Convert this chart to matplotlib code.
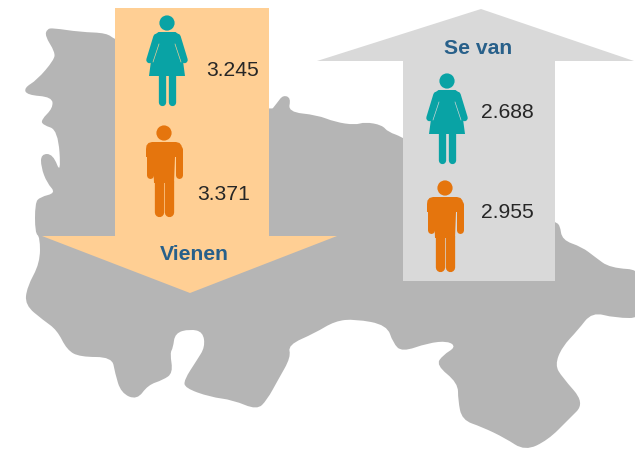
import matplotlib
matplotlib.use("Agg")
import matplotlib.pyplot as plt
from matplotlib.patches import Polygon, Circle, PathPatch
from matplotlib.path import Path

plt.rcParams['font.family'] = ['Liberation Sans', 'DejaVu Sans']

# valores
categorias = ["Vienen", "Se van"]
mujeres = ["3.245", "2.688"]
hombres = ["3.371", "2.955"]

# silueta del mapa (en pixeles de la imagen)
mapa_x = [47, 53, 80, 107, 115, 269, 277, 283, 291, 288, 317, 335, 355, 365, 382, 388, 403, 555, 560, 562,
          582, 595, 610, 645, 645, 615, 592, 578, 562, 555, 562, 585, 568, 548, 525, 505, 482, 462, 458, 458,
          436, 443, 456, 448, 428, 402, 393, 387, 355, 335, 315, 288, 291, 278, 267, 257, 233, 210, 185, 184,
          197, 205, 203, 190, 175, 173, 170, 173, 163, 148, 137, 121, 115, 112, 80, 67, 57, 43, 25, 27,
          40, 40, 35, 35, 40, 56, 47, 41, 41, 53, 61, 58, 43, 41, 53, 52, 27, 24, 37, 54, 55, 45]
mapa_y = [29, 28, 32, 33, 40, 113, 103, 95, 98, 112, 115, 122, 125, 122, 125, 132, 137, 222, 225, 240,
          247, 257, 268, 270, 318, 318, 312, 330, 347, 365, 377, 403, 420, 440, 451, 438, 427, 420, 400, 383,
          365, 355, 347, 341, 343, 352, 343, 325, 319, 321, 333, 345, 357, 380, 400, 410, 400, 397, 388, 380,
          360, 347, 332, 329, 333, 348, 353, 373, 380, 385, 400, 393, 373, 357, 357, 350, 330, 320, 305, 287,
          263, 237, 233, 203, 197, 193, 183, 167, 154, 154, 175, 130, 125, 120, 108, 97, 95, 88, 80, 60, 52, 36]

gris_mapa = "#B5B5B5"
naranja_claro = "#FFCF94"
gris_claro = "#D9D9D9"
teal = "#09A3A5"
naranja = "#E5750D"
azul = "#28608A"
negro = "#262626"


def silueta(xs, ys):
    # curvas entre puntos medios para que el borde no quede en picos
    n = len(xs)
    mx = [(xs[i] + xs[(i + 1) % n]) / 2 for i in range(n)]
    my = [(ys[i] + ys[(i + 1) % n]) / 2 for i in range(n)]
    verts = [(mx[-1], my[-1])]
    codes = [Path.MOVETO]
    for i in range(n):
        verts += [(xs[i], ys[i]), (mx[i], my[i])]
        codes += [Path.CURVE3, Path.CURVE3]
    return Path(verts, codes)


def limb(ax, x1, y1, x2, y2, w, color, z):
    # 1 px = 0.72 pt a 100 dpi
    ax.plot([x1, x2], [y1, y2], color=color, lw=w * 0.72, solid_capstyle="round", zorder=z)


def mujer(ax, cx, cy, fondo):
    ax.add_patch(Circle((cx, cy), 7.6, color=teal, lw=0, zorder=5))
    ax.add_patch(Polygon([(cx - 8.5, cy + 9), (cx + 8.5, cy + 9), (cx + 12.5, cy + 12), (cx + 18, cy + 53),
                          (cx - 18, cy + 53), (cx - 12.5, cy + 12)], closed=True, color=teal, lw=0, zorder=5))
    for s in (-1, 1):
        limb(ax, cx + s * 10.5, cy + 14, cx + s * 17.5, cy + 37, 6.5, teal, 5)
        limb(ax, cx + s * 4.6, cy + 50, cx + s * 4.6, cy + 78.5, 7.3, teal, 5)
        ax.plot([cx + s * 8, cx + s * 14], [cy + 21, cy + 39], color=fondo, lw=0.45, zorder=6)


def hombre(ax, cx, cy, fondo):
    ax.add_patch(Circle((cx, cy), 7.6, color=naranja, lw=0, zorder=5))
    ax.add_patch(Polygon([(cx - 12, cy + 9), (cx + 12, cy + 9), (cx + 15.5, cy + 10), (cx + 17.5, cy + 12.5),
                          (cx + 18, cy + 16), (cx + 18, cy + 24), (cx + 11, cy + 24), (cx + 10, cy + 50),
                          (cx - 10, cy + 50), (cx - 11, cy + 24), (cx - 18, cy + 24), (cx - 18, cy + 16),
                          (cx - 17.5, cy + 12.5), (cx - 15.5, cy + 10)],
                         closed=True, color=naranja, lw=0, zorder=5))
    for s in (-1, 1):
        limb(ax, cx + s * 14.5, cy + 16, cx + s * 14.5, cy + 41.5, 7, naranja, 5)
        limb(ax, cx + s * 5.3, cy + 48, cx + s * 5.3, cy + 78.5, 9.3, naranja, 5)


fig = plt.figure(figsize=(6.35, 4.51), dpi=100)
ax = fig.add_axes([0, 0, 1, 1])
ax.set_xlim(0, 635)
ax.set_ylim(451, 0)
ax.axis("off")

ax.add_patch(PathPatch(silueta(mapa_x, mapa_y), color=gris_mapa, lw=0, zorder=1))

# flecha que baja
ax.add_patch(Polygon([(115, 8), (269, 8), (269, 236), (337, 236), (190, 293), (42, 236), (115, 236)],
                     closed=True, color=naranja_claro, lw=0, zorder=2))
# flecha que sube
ax.add_patch(Polygon([(403, 281), (555, 281), (555, 61), (634, 61), (481, 9), (317, 61), (403, 61)],
                     closed=True, color=gris_claro, lw=0, zorder=2))

mujer(ax, 167, 23, naranja_claro)
hombre(ax, 164, 133, naranja_claro)
mujer(ax, 447, 81, gris_claro)
hombre(ax, 445, 188, gris_claro)

ax.text(206, 71, mujeres[0], fontsize=15.2, color=negro, va="center", zorder=7)
ax.text(197, 195, hombres[0], fontsize=15.2, color=negro, va="center", zorder=7)
ax.text(481, 113, mujeres[1], fontsize=15.2, color=negro, va="center", zorder=7)
ax.text(481, 213, hombres[1], fontsize=15.2, color=negro, va="center", zorder=7)
ax.text(194, 254, categorias[0], fontsize=15.2, fontweight="bold", color=azul, ha="center", va="center", zorder=7)
ax.text(478, 49, categorias[1], fontsize=15.2, fontweight="bold", color=azul, ha="center", va="center", zorder=7)

fig.savefig("out.png", dpi=100)
